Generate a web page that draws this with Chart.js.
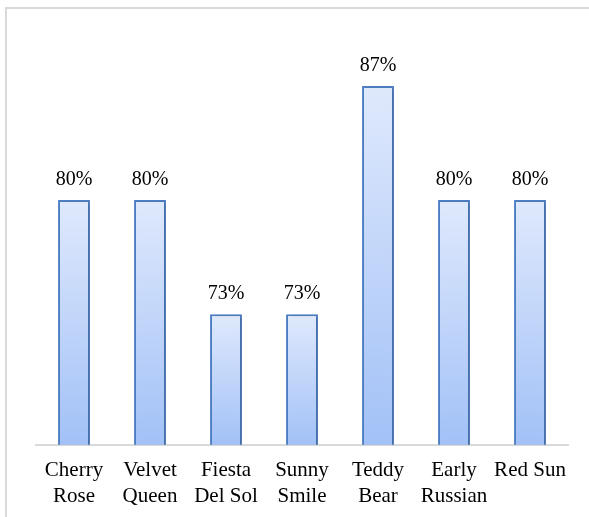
<!DOCTYPE html>
<html>
<head>
<meta charset="utf-8">
<script src="https://cdn.jsdelivr.net/npm/chart.js@4"></script>
<style>
  html, body { margin: 0; padding: 0; background: #ffffff; overflow: hidden; }
  #wrap { position: relative; width: 589px; height: 517px; }
</style>
</head>
<body>
<div id="wrap"><canvas id="chart"></canvas></div>
<script>
// tomato varieties and their percentages
const varieties = [['Cherry', 'Rose'], ['Velvet', 'Queen'], ['Fiesta', 'Del Sol'], ['Sunny', 'Smile'], ['Teddy', 'Bear'], ['Early', 'Russian'], 'Red Sun'];
const percents = [80, 80, 73, 73, 87, 80, 80];
const yMin = 65;
const yMax = 90;

const serif = '"Liberation Serif", "Times New Roman", serif';

// light grey frame round the chart (left + top, right side runs off the picture)
const framePlugin = {
    id: 'frame',
    beforeDraw(chart) {
        const c = chart.ctx;
        c.save();
        c.strokeStyle = '#d9d9d9';
        c.lineWidth = 2;
        c.beginPath();
        c.moveTo(6, 517);
        c.lineTo(6, 8);
        c.lineTo(589, 8);
        c.stroke();
        c.restore();
    }
};

// per-bar vertical gradient, light at top and deeper blue at the base
function barGradient(context) {
    const chart = context.chart;
    const y = chart.scales.y;
    if (!chart.chartArea || !y || context.parsed == null) return '#c5d8fa';
    const top = y.getPixelForValue(context.parsed.y);
    const base = y.getPixelForValue(yMin);
    if (!isFinite(top) || !isFinite(base) || top === base) return '#c5d8fa';
    const g = chart.ctx.createLinearGradient(0, top, 0, base);
    g.addColorStop(0, '#dfe9fc');
    g.addColorStop(1, '#a2c1f7');
    return g;
}

// soft shadow behind bars
const shadowPlugin = {
    id: 'barShadow',
    beforeDatasetsDraw(chart) {
        const c = chart.ctx;
        c.save();
        c.shadowColor = 'rgba(0,0,0,0.18)';
        c.shadowBlur = 4;
        c.shadowOffsetX = 2;
        c.shadowOffsetY = 1;
    },
    afterDatasetsDraw(chart) {
        chart.ctx.restore();
    }
};

// value labels above each bar
const valueLabels = {
    id: 'valueLabels',
    afterDatasetsDraw(chart) {
        const c = chart.ctx;
        c.save();
        c.font = '20px ' + serif;
        c.fillStyle = '#000000';
        c.textAlign = 'center';
        c.textBaseline = 'alphabetic';
        chart.getDatasetMeta(0).data.forEach((bar, i) => {
            c.fillText(percents[i] + '%', bar.x, bar.y - 15);
        });
        c.restore();
    }
};

new Chart(document.getElementById('chart'), {
    type: 'bar',
    data: {
        labels: varieties,
        datasets: [{
            data: percents,
            backgroundColor: barGradient,
            borderColor: '#4f81c6',
            borderWidth: 2,
            borderSkipped: 'bottom',
            categoryPercentage: 1,
            barPercentage: 0.42
        }]
    },
    options: {
        responsive: true,
        maintainAspectRatio: false,
        animation: false,
        layout: { padding: { left: 36, right: 21, top: 37, bottom: -5 } },
        plugins: {
            legend: { display: false },
            tooltip: { enabled: false }
        },
        scales: {
            y: {
                display: false,
                min: yMin,
                max: yMax
            },
            x: {
                grid: { display: false, drawTicks: false },
                border: { display: true, color: '#d9d9d9', width: 2 },
                ticks: {
                    color: '#000000',
                    padding: 13,
                    maxRotation: 0,
                    autoSkip: false,
                    font: { family: serif, size: 21, lineHeight: 1.22 }
                }
            }
        }
    },
    plugins: [framePlugin, shadowPlugin, valueLabels]
});
</script>
</body>
</html>
